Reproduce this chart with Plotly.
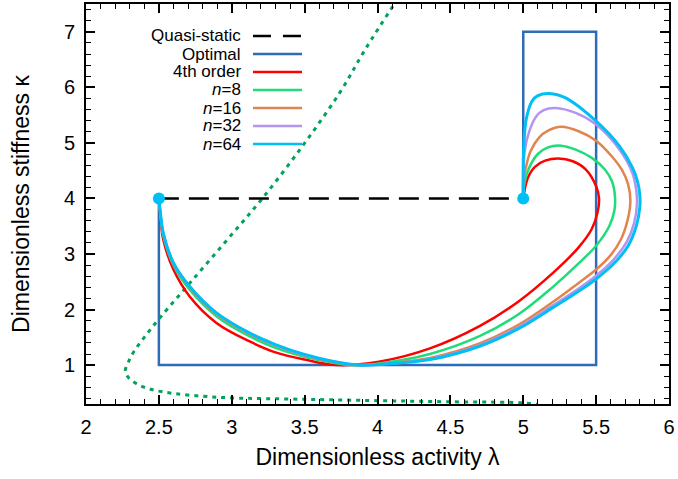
import plotly.graph_objects as go

# ---------------- data ----------------
qs_x = [2.5, 5.0]
qs_y = [4.0, 4.0]

opt_x = [2.5, 2.5, 5.5, 5.5, 5.0, 5.0]
opt_y = [4.0, 1.0, 1.0, 7.0, 7.0, 4.0]

bound_x = [4.14, 3.92, 3.74, 3.49, 3.21, 2.97, 2.72, 2.51, 2.40, 2.33, 2.29, 2.27, 2.29,
           2.35, 2.45, 2.60, 2.80, 3.00, 3.50, 4.00, 4.50, 5.00, 5.10]
bound_y = [7.60, 6.70, 5.90, 4.96, 4.00, 3.26, 2.50, 1.86, 1.50, 1.25, 1.05, 0.90, 0.78,
           0.66, 0.56, 0.49, 0.44, 0.41, 0.385, 0.36, 0.34, 0.32, 0.29]

o4_x = [2.50, 2.51, 2.53, 2.60, 2.71, 2.895, 3.12, 3.30, 3.50, 3.72, 4.01, 4.36, 4.70,
        4.97, 5.20, 5.38, 5.47, 5.51, 5.52, 5.50, 5.43, 5.34, 5.24, 5.15, 5.08, 5.03, 5.00]
o4_y = [4.00, 3.70, 3.26, 2.72, 2.24, 1.76, 1.43, 1.23, 1.10, 1.00, 1.06, 1.30, 1.70,
        2.15, 2.65, 3.12, 3.45, 3.75, 4.00, 4.22, 4.52, 4.67, 4.72, 4.68, 4.57, 4.36, 4.00]

n8_x = [2.50, 2.51, 2.53, 2.60, 2.71, 2.895, 3.12, 3.30, 3.50, 3.70, 3.82, 4.01, 4.36, 4.70,
        4.97, 5.20, 5.38, 5.50, 5.59, 5.625, 5.63, 5.61, 5.56, 5.47, 5.36, 5.26, 5.17, 5.10,
        5.04, 5.01, 5.00]
n8_y = [4.00, 3.72, 3.33, 2.80, 2.36, 1.88, 1.52, 1.31, 1.15, 1.04, 1.00, 1.03, 1.20, 1.52,
        1.92, 2.40, 2.83, 3.15, 3.50, 3.78, 4.01, 4.30, 4.52, 4.73, 4.88, 4.95, 4.92, 4.80,
        4.55, 4.30, 4.00]

n16_x = [2.50, 2.51, 2.53, 2.60, 2.71, 2.895, 3.12, 3.30, 3.50, 3.70, 3.85, 4.01, 4.36, 4.70,
         4.97, 5.20, 5.38, 5.50, 5.60, 5.67, 5.715, 5.735, 5.72, 5.68, 5.61, 5.50, 5.38, 5.26,
         5.17, 5.11, 5.05, 5.02, 5.00, 5.00]
n16_y = [4.00, 3.74, 3.36, 2.82, 2.40, 1.92, 1.56, 1.35, 1.17, 1.05, 1.00, 1.02, 1.13, 1.39,
         1.73, 2.13, 2.48, 2.72, 2.98, 3.26, 3.60, 3.95, 4.25, 4.50, 4.75, 5.04, 5.21, 5.29,
         5.22, 5.10, 4.85, 4.58, 4.30, 4.00]

n32_x = [2.50, 2.51, 2.53, 2.60, 2.71, 2.895, 3.12, 3.30, 3.50, 3.69, 3.87, 4.05, 4.36, 4.70,
         4.97, 5.20, 5.38, 5.50, 5.62, 5.71, 5.76, 5.78, 5.775, 5.75, 5.66, 5.50, 5.36,
         5.22, 5.14, 5.09, 5.04, 5.01, 5.00, 5.00]
n32_y = [4.00, 3.75, 3.37, 2.84, 2.42, 1.94, 1.58, 1.36, 1.18, 1.07, 1.00, 1.02, 1.11, 1.36,
         1.69, 2.07, 2.38, 2.61, 2.90, 3.22, 3.55, 3.90, 4.15, 4.45, 4.88, 5.33, 5.54,
         5.63, 5.59, 5.48, 5.20, 4.85, 4.40, 4.00]

n64_x = [2.50, 2.51, 2.53, 2.60, 2.71, 2.895, 3.12, 3.30, 3.50, 3.69, 3.88, 4.05, 4.36, 4.70,
         4.97, 5.20, 5.38, 5.50, 5.63, 5.72, 5.775, 5.80, 5.80, 5.785, 5.75, 5.66, 5.50, 5.29,
         5.18, 5.10, 5.06, 5.02, 5.005, 5.00, 5.00]
n64_y = [4.00, 3.75, 3.38, 2.84, 2.42, 1.94, 1.58, 1.37, 1.19, 1.07, 1.00, 1.02, 1.10, 1.34,
         1.66, 2.03, 2.33, 2.55, 2.85, 3.15, 3.50, 3.85, 4.05, 4.30, 4.55, 4.94, 5.39, 5.81,
         5.89, 5.85, 5.75, 5.42, 5.00, 4.64, 4.00]

end_x = [2.5, 5.0]
end_y = [4.0, 4.0]

x_ticks = [2, 2.5, 3, 3.5, 4, 4.5, 5, 5.5, 6]
x_tick_text = ["2", "2.5", "3", "3.5", "4", "4.5", "5", "5.5", "6"]
y_ticks = [1, 2, 3, 4, 5, 6, 7]
y_tick_text = ["1", "2", "3", "4", "5", "6", "7"]

legend_names = ["Quasi-static", "Optimal", "4th order", "<i>n</i>=8",
                "<i>n</i>=16", "<i>n</i>=32", "<i>n</i>=64"]

# ---------------- styles ----------------
C_QS = "black"
C_OPT = "#2f6cb8"
C_BOUND = "#00a35a"
C_O4 = "#ff0000"
C_N8 = "#1fdc7a"
C_N16 = "#e0854f"
C_N32 = "#b594f0"
C_N64 = "#00bff5"
FONT = "Liberation Sans, Arial, sans-serif"

fig = go.Figure()

def add(x, y, color, width, dash="solid", shape="spline"):
    line = dict(color=color, width=width, dash=dash, shape=shape)
    if shape == "spline":
        line["smoothing"] = 1.0
    fig.add_trace(go.Scatter(x=x, y=y, mode="lines", showlegend=False, hoverinfo="skip",
                             line=line))

add(opt_x, opt_y, C_OPT, 2.5, shape="linear")
add(bound_x, bound_y, C_BOUND, 3, dash="4px,5px")
add(qs_x, qs_y, C_QS, 2.5, dash="20px,10px", shape="linear")
add(o4_x, o4_y, C_O4, 2.5)
add(n8_x, n8_y, C_N8, 2.5)
add(n16_x, n16_y, C_N16, 2.5)
add(n32_x, n32_y, C_N32, 2.5)
add(n64_x, n64_y, C_N64, 3)

fig.add_trace(go.Scatter(x=end_x, y=end_y, mode="markers", showlegend=False, hoverinfo="skip",
                         marker=dict(color=C_N64, size=12)))

# ---------------- hand-made legend (text left, sample right) ----------------
leg_colors = [C_QS, C_OPT, C_O4, C_N8, C_N16, C_N32, C_N64]
leg_dash = ["18px,12px", "solid", "solid", "solid", "solid", "solid", "solid"]
row_y0 = 0.92
row_dy = 0.045
for i, (nm, col, ds) in enumerate(zip(legend_names, leg_colors, leg_dash)):
    yy = row_y0 - i * row_dy
    fig.add_annotation(x=0.2693, y=yy, xref="paper", yref="paper", text=nm,
                       showarrow=False, xanchor="right", yanchor="middle",
                       font=dict(family=FONT, size=17, color="black"))
    fig.add_shape(type="line", xref="paper", yref="paper", x0=0.2864, x1=0.3705,
                  y0=yy, y1=yy, line=dict(color=col, width=2.5, dash=ds))

axis_common = dict(showline=True, linecolor="black", linewidth=2, mirror="ticks",
                   ticks="inside", ticklen=9, tickwidth=1.5, tickcolor="black",
                   showgrid=False, zeroline=False, automargin=False,
                   tickfont=dict(family=FONT, size=20, color="black"))

fig.update_xaxes(range=[2, 6], tickvals=x_ticks, ticktext=x_tick_text, ticklabelstandoff=4,
                 minor=dict(ticks="inside", ticklen=5, dtick=0.1, tickwidth=1.2, tickcolor="black"),
                 title=dict(text="Dimensionless activity λ", standoff=12,
                            font=dict(family=FONT, size=23, color="black")),
                 **axis_common)
fig.update_yaxes(range=[0.3, 7.5], tickvals=y_ticks, ticktext=y_tick_text, ticklabelstandoff=5,
                 minor=dict(ticks="inside", ticklen=5, dtick=0.2, tick0=0, tickwidth=1.2, tickcolor="black"),
                 title=dict(text="Dimensionless stiffness κ", standoff=28,
                            font=dict(family=FONT, size=23, color="black")),
                 **axis_common)

fig.update_layout(width=678, height=479, margin=dict(l=86, r=9, t=4, b=75),
                  plot_bgcolor="white", paper_bgcolor="white", showlegend=False)

fig.write_html("out.html", config={"displayModeBar": False},
               post_script=["document.body.style.margin='0';"])
